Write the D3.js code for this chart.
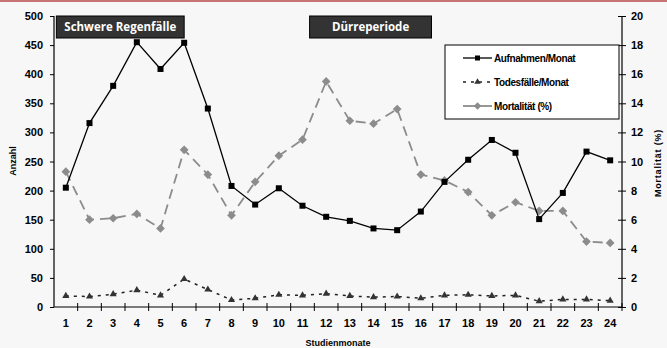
<!DOCTYPE html>
<html lang="de">
<head>
<meta charset="UTF-8">
<title>Aufnahmen und Mortalität</title>
<style>
  html, body { margin: 0; padding: 0; background: #f7f7f7; }
  svg { display: block; }
</style>
</head>
<body>
<div id="chart"></div>
<script src="https://d3js.org/d3.v7.min.js"></script>
<script>
// Daten
const months = d3.range(1, 25);
const aufnahmen = [205, 316, 380, 455, 409, 454, 341, 208, 176, 204, 174, 155,
                   148, 135, 132, 164, 215, 253, 287, 265, 151, 196, 267, 252];
const todesfaelle = [19, 18, 22, 29, 20, 48, 30, 12, 15, 21, 20, 23,
                     19, 17, 18, 15, 20, 21, 19, 20, 10, 13, 13, 11];
const mortalitaet = [9.3, 6.0, 6.1, 6.4, 5.4, 10.8, 9.1, 6.3, 8.6, 10.4, 11.5, 15.5,
                     12.8, 12.6, 13.6, 9.1, 8.7, 7.9, 6.3, 7.2, 6.6, 6.6, 4.5, 4.4];
const leftTicks = d3.range(0, 501, 50);
const rightTicks = d3.range(0, 21, 2);
// Zeitraum der Ereignisse (in Monaten, auf der Monatsachse)
const annotations = [
  { text: 'Schwere Regenfälle', from: 0.6, to: 6.0 },
  { text: 'Dürreperiode', from: 11.3, to: 16.45 }
];

const width = 667, height = 348;
const margin = { top: 16, right: 45, bottom: 41, left: 54 };
const innerW = width - margin.left - margin.right;
const innerH = height - margin.top - margin.bottom;

const svg = d3.select('#chart').append('svg')
  .attr('width', width).attr('height', height);

svg.append('rect').attr('width', width).attr('height', height).attr('fill', '#f7f7f7');
svg.append('rect').attr('width', width).attr('height', 2).attr('fill', '#c97473');

const g = svg.append('g').attr('transform', `translate(${margin.left},${margin.top})`);

const x = d3.scaleBand().domain(months).range([0, innerW]);
const xc = d3.scaleLinear().domain([0.5, 24.5]).range([0, innerW]); // kontinuierliche Monatsachse
const yL = d3.scaleLinear().domain([0, 500]).range([innerH, 0]);
const yR = d3.scaleLinear().domain([0, 20]).range([innerH, 0]);
const cx = d => x(d) + x.bandwidth() / 2;

const font = '"Liberation Sans", Arial, sans-serif';

// linke Achse
const axL = g.append('g').call(d3.axisLeft(yL).tickValues(leftTicks).tickSize(4).tickPadding(7));
// rechte Achse
const axR = g.append('g').attr('transform', `translate(${innerW},0)`)
  .call(d3.axisRight(yR).tickValues(rightTicks).tickSize(4).tickPadding(5));
axR.selectAll('.tick line').attr('x1', -4);
// x-Achse mit Strichen zwischen den Kategorien
const axB = g.append('g').attr('transform', `translate(0,${innerH})`)
  .call(d3.axisBottom(x).tickSize(0).tickPadding(12));
axB.selectAll('.tick').append('line')
  .attr('x1', x.bandwidth() / 2).attr('x2', x.bandwidth() / 2)
  .attr('y1', -4).attr('y2', 4).attr('stroke', '#000');

[axL, axR, axB].forEach(a => {
  a.select('.domain').attr('stroke', '#000').attr('stroke-width', 1.2);
  a.selectAll('.tick line').attr('stroke', '#000');
  a.selectAll('.tick text').attr('font-family', font).attr('font-weight', 'bold')
    .attr('font-size', 11).attr('fill', '#000');
});
axL.select('.domain').attr('d', `M0,${innerH}V0`);
axR.select('.domain').attr('d', `M0,${innerH}V0`);
axB.select('.domain').attr('d', `M0,0H${innerW}`);

// Achsentitel
svg.append('text').text('Anzahl')
  .attr('transform', `translate(16,161) rotate(-90)`)
  .attr('text-anchor', 'middle').attr('font-family', font).attr('font-weight', 'bold')
  .attr('font-size', 9);
svg.append('text').text('Mortalität (%)')
  .attr('transform', `translate(661,163) rotate(-90)`)
  .attr('text-anchor', 'middle').attr('font-family', font).attr('font-weight', 'bold')
  .attr('font-size', 9).attr('letter-spacing', 0.8);
svg.append('text').text('Studienmonate')
  .attr('x', margin.left + innerW / 2).attr('y', 346)
  .attr('text-anchor', 'middle').attr('font-family', font).attr('font-weight', 'bold')
  .attr('font-size', 9);

// Linien
const lineL = d3.line().x((d, i) => cx(months[i])).y(d => yL(d));
const lineR = d3.line().x((d, i) => cx(months[i])).y(d => yR(d));

g.append('path').datum(mortalitaet).attr('d', lineR)
  .attr('fill', 'none').attr('stroke', '#8c8c8c').attr('stroke-width', 1.8)
  .attr('stroke-dasharray', '10,6');
g.selectAll('.dia').data(mortalitaet).enter().append('path')
  .attr('d', d3.symbol(d3.symbolSquare, 38))
  .attr('transform', (d, i) => `translate(${cx(months[i])},${yR(d)}) rotate(45)`)
  .attr('fill', '#8c8c8c');

g.append('path').datum(todesfaelle).attr('d', lineL)
  .attr('fill', 'none').attr('stroke', '#222').attr('stroke-width', 1.5)
  .attr('stroke-dasharray', '3,5');
g.selectAll('.tri').data(todesfaelle).enter().append('path')
  .attr('d', d3.symbol(d3.symbolTriangle, 22))
  .attr('transform', (d, i) => `translate(${cx(months[i])},${yL(d)})`)
  .attr('fill', '#333');

g.append('path').datum(aufnahmen).attr('d', lineL)
  .attr('fill', 'none').attr('stroke', '#000').attr('stroke-width', 1.3);
g.selectAll('.sq').data(aufnahmen).enter().append('rect')
  .attr('x', (d, i) => cx(months[i]) - 3).attr('y', d => yL(d) - 3)
  .attr('width', 6).attr('height', 6).attr('fill', '#000');

// Anmerkungsboxen
annotations.forEach(a => {
  const x0 = xc(a.from), x1 = xc(a.to);
  const box = g.append('g');
  box.append('rect').attr('x', x0).attr('y', 0).attr('width', x1 - x0).attr('height', 22)
    .attr('fill', '#333').attr('stroke', '#000').attr('stroke-width', 1);
  box.append('text').text(a.text).attr('x', (x0 + x1) / 2).attr('y', 15)
    .attr('text-anchor', 'middle').attr('fill', '#fff')
    .attr('font-family', '"Open Sans", sans-serif').attr('font-weight', 'bold')
    .attr('font-size', 11.5);
});

// Legende
const legend = svg.append('g').attr('transform', 'translate(445,45)');
legend.append('rect').attr('width', 174).attr('height', 74)
  .attr('fill', '#fff').attr('stroke', '#000').attr('stroke-width', 1);
const items = [
  { name: 'Aufnahmen/Monat', color: '#000', dash: null, w: 1.3, sym: 'sq' },
  { name: 'Todesfälle/Monat', color: '#222', dash: '3,5', w: 1.5, sym: 'tri' },
  { name: 'Mortalität (%)', color: '#8c8c8c', dash: null, w: 1.8, sym: 'dia' }
];
items.forEach((it, i) => {
  const yy = 13 + i * 24;
  const row = legend.append('g').attr('transform', `translate(0,${yy})`);
  row.append('line').attr('x1', 18).attr('x2', 47).attr('stroke', it.color)
    .attr('stroke-width', it.w).attr('stroke-dasharray', it.dash);
  if (it.sym === 'sq') row.append('rect').attr('x', 30).attr('y', -2.5).attr('width', 5).attr('height', 5).attr('fill', '#000');
  if (it.sym === 'tri') row.append('path').attr('d', d3.symbol(d3.symbolTriangle, 18)).attr('transform', 'translate(32.5,0)').attr('fill', '#333');
  if (it.sym === 'dia') row.append('path').attr('d', d3.symbol(d3.symbolSquare, 28)).attr('transform', 'translate(32.5,0) rotate(45)').attr('fill', '#8c8c8c');
  row.append('text').text(it.name).attr('x', 49).attr('y', 4)
    .attr('font-family', font).attr('font-weight', 'bold').attr('font-size', 10)
    .attr('letter-spacing', -0.4);
});
</script>
</body>
</html>
